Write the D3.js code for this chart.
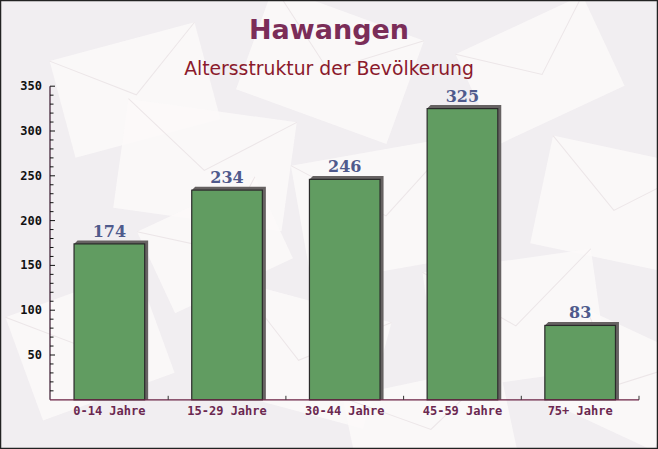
<!DOCTYPE html>
<html><head><meta charset="utf-8">
<script src="https://cdn.jsdelivr.net/npm/d3@7"></script>
<style>body{margin:0;padding:0;overflow:hidden}svg{display:block}</style>
</head><body>
<script>
const categories = ["0-14 Jahre","15-29 Jahre","30-44 Jahre","45-59 Jahre","75+ Jahre"];
const values = [174, 234, 246, 325, 83];
const yTicks = [50,100,150,200,250,300,350];
const title = "Hawangen";
const subtitle = "Altersstruktur der Bevölkerung";

(function(){
const W = 658, H = 449;
const svg = d3.select("body").append("svg").attr("width", W).attr("height", H);

// background
svg.append("rect").attr("x",0).attr("y",0).attr("width",W).attr("height",H).attr("fill","#f1eef1");
const env = [
  [60,40,150,100,-15],[250,10,160,110,20],[470,20,140,100,-25],[120,110,170,110,8],
  [300,150,170,120,-10],[540,150,150,110,12],[20,290,140,110,-20],[220,300,160,110,15],
  [430,260,170,120,-8],[560,330,120,100,25],[350,380,160,90,-12],[150,200,130,90,-25]
];
const eg = svg.append("g");
env.forEach(e => {
  const g = eg.append("g").attr("transform", `translate(${e[0]+e[2]/2},${e[1]+e[3]/2}) rotate(${e[4]})`);
  g.append("rect").attr("x",-e[2]/2).attr("y",-e[3]/2).attr("width",e[2]).attr("height",e[3]).attr("fill","#fbf9f9").attr("opacity",0.85);
  g.append("path").attr("d",`M${-e[2]/2},${-e[3]/2} L0,${e[3]*0.05} L${e[2]/2},${-e[3]/2}`).attr("fill","none").attr("stroke","#ece6e8").attr("stroke-width",1);
});

// title
svg.append("text").attr("x",329).attr("y",39).attr("text-anchor","middle")
  .attr("font-family","'DejaVu Sans', Verdana, sans-serif").attr("font-weight","bold")
  .attr("font-size",27).attr("fill","#7b2d58").text(title);
svg.append("text").attr("x",329).attr("y",75).attr("text-anchor","middle")
  .attr("font-family","'DejaVu Sans', Verdana, sans-serif")
  .attr("font-size",18.8).attr("fill","#8b1a2c").text(subtitle);

const mLeft = 50, mRight = 639, mTop = 86.2, mBottom = 399.8;
const x = d3.scaleBand().domain(categories).range([mLeft+0.5, mRight]).paddingInner(0.4).paddingOuter(0.2);
const y = d3.scaleLinear().domain([0,350]).range([mBottom, mTop]);

// bars
const bw = x.bandwidth();
const bars = svg.append("g");
categories.forEach((c,i) => {
  const bx = x(c), by = y(values[i]), bh = mBottom - by;
  const s = 3.5;
  bars.append("path")
    .attr("d", `M${bx},${by} L${bx+s},${by-s} L${bx+bw+s},${by-s} L${bx+bw+s},${mBottom} L${bx+bw},${mBottom} L${bx+bw},${by} Z`)
    .attr("fill","#666262");
  bars.append("rect").attr("x",bx).attr("y",by).attr("width",bw).attr("height",bh)
    .attr("fill","#619c61").attr("stroke","#2a2a2a").attr("stroke-width",1.2);
  bars.append("text").attr("x",bx+bw/2).attr("y",by-7).attr("text-anchor","middle")
    .attr("font-family","'DejaVu Serif', 'Liberation Serif', serif").attr("font-weight","bold")
    .attr("font-size",16).attr("fill","#4f5a8c").text(values[i]);
});

// y axis
const yAxisG = svg.append("g").attr("transform",`translate(${mLeft},0)`);
yAxisG.append("line").attr("x1",0).attr("x2",0).attr("y1",mTop).attr("y2",mBottom).attr("stroke","#3a1a30").attr("stroke-width",1.2);
d3.range(10,351,10).forEach(v => {
  const major = v % 50 === 0;
  yAxisG.append("line").attr("x1",0).attr("x2",major?5:3.5).attr("y1",y(v)).attr("y2",y(v)).attr("stroke","#111").attr("stroke-width",1);
});
yTicks.forEach(v => {
  yAxisG.append("text").attr("x",-8).attr("y",y(v)+4).attr("text-anchor","end")
    .attr("font-family","'DejaVu Sans Mono', 'Liberation Mono', monospace").attr("font-weight","bold")
    .attr("font-size",12).attr("fill","#111").text(v);
});

// x axis
const xAxisG = svg.append("g");
xAxisG.append("line").attr("x1",mLeft).attr("x2",mRight).attr("y1",mBottom).attr("y2",mBottom).attr("stroke","#6b2244").attr("stroke-width",1.2);
const step = x.step();
categories.forEach((c,i) => {
  const bx = x(c)+bw+(step-bw)/2;
  xAxisG.append("line").attr("x1",bx).attr("x2",bx).attr("y1",mBottom).attr("y2",mBottom-4).attr("stroke","#333").attr("stroke-width",1);
  xAxisG.append("text").attr("x",x(c)+bw/2).attr("y",415).attr("text-anchor","middle")
    .attr("font-family","'DejaVu Sans Mono', 'Liberation Mono', monospace").attr("font-weight","bold")
    .attr("font-size",12).attr("fill","#6b2850").text(c);
});

// frame
svg.append("rect").attr("x",0.5).attr("y",0.5).attr("width",W-1).attr("height",H-1).attr("fill","none").attr("stroke","#222").attr("stroke-width",1.5);
})();
</script>
</body></html>
